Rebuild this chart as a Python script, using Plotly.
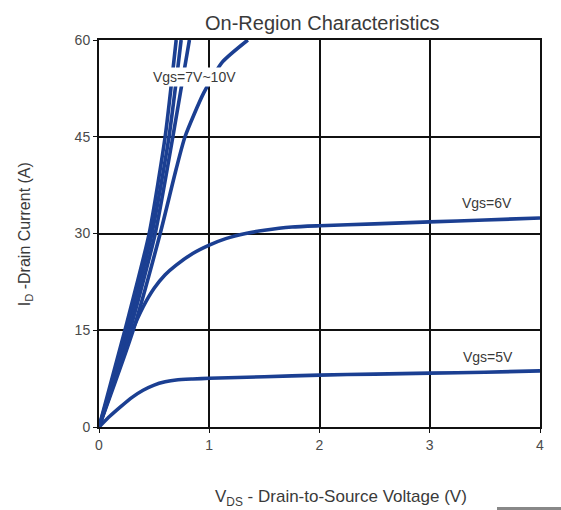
"""
plot.py

On-region characteristics of a power MOSFET: drain current versus
drain-to-source voltage for several gate voltages.
"""

import plotly.graph_objects as go

# Steep curves (Vgs = 7V .. 10V): V_DS read at fixed I_D levels
id_steep = [0, 15, 30, 45, 60]
vds_10v = [0, 0.235, 0.455, 0.60, 0.70]
vds_9v = [0, 0.255, 0.48, 0.635, 0.745]
vds_8v = [0, 0.28, 0.51, 0.67, 0.82]

id_7v = [0, 15, 30, 40, 45, 51.8, 56.6, 60]
vds_7v = [0, 0.31, 0.555, 0.70, 0.78, 0.95, 1.12, 1.35]

# Vgs = 6V
vds_6v = [0, 0.1, 0.2, 0.3, 0.4, 0.5, 0.6, 0.7, 0.85, 1.0, 1.15, 1.33,
          1.5, 1.75, 2.0, 2.5, 3.0, 3.5, 4.0]
id_6v = [0, 5, 10, 14.8, 18.6, 21.5, 23.6, 25.1, 26.9, 28.2, 29.2, 30.0,
         30.5, 31.0, 31.2, 31.5, 31.8, 32.1, 32.4]

# Vgs = 5V
vds_5v = [0, 0.1, 0.2, 0.3, 0.4, 0.5, 0.6, 0.7, 0.85, 1.0, 1.5, 2.0,
          2.5, 3.0, 3.5, 4.0]
id_5v = [0, 1.7, 3.2, 4.6, 5.7, 6.5, 7.0, 7.3, 7.45, 7.55, 7.8, 8.05,
         8.2, 8.35, 8.5, 8.7]

x_ticks = [0, 1, 2, 3, 4]
y_ticks = [0, 15, 30, 45, 60]

LINE_COLOR = "#1b3f92"
FONT = "Liberation Sans, Arial, sans-serif"

fig = go.Figure()

# Curves: one trace per gate voltage, same style for all
curves = [
    (vds_5v, id_5v),
    (vds_6v, id_6v),
    (vds_7v, id_7v),
    (vds_8v, id_steep),
    (vds_9v, id_steep),
    (vds_10v, id_steep),
]
for xs, ys in curves:
    fig.add_trace(
        go.Scatter(
            x=xs,
            y=ys,
            mode="lines",
            line=dict(color=LINE_COLOR, width=3.6, shape="spline", smoothing=0.6),
            showlegend=False,
            hoverinfo="skip",
        )
    )

# Axes: black grid every tick, boxed plot area
axis_style = dict(
    showgrid=True,
    gridcolor="#111111",
    gridwidth=2,
    showline=True,
    linecolor="#111111",
    linewidth=2,
    mirror=True,
    ticks="outside",
    ticklen=4,
    tickcolor="#111111",
    zeroline=False,
    tickfont=dict(family=FONT, size=14, color="#4a4a4a"),
)

fig.update_layout(
    width=561,
    height=510,
    margin=dict(l=99, r=21, t=40, b=83),
    paper_bgcolor="white",
    plot_bgcolor="white",
    font=dict(family=FONT),
    xaxis=dict(range=[0, 4], tickvals=x_ticks, **axis_style),
    yaxis=dict(range=[0, 60], tickvals=y_ticks, **axis_style),
)

# Curve labels: the 7V~10V label sits on a white box that hides the grid
label_font = dict(family=FONT, size=14, color="#3a3a3a")
fig.add_annotation(x=0.87, y=54.2, text="Vgs=7V~10V", showarrow=False,
                   font=label_font, bgcolor="white", borderpad=1)
fig.add_annotation(x=3.52, y=34.7, text="Vgs=6V", showarrow=False, font=label_font)
fig.add_annotation(x=3.53, y=10.85, text="Vgs=5V", showarrow=False, font=label_font)

# Title and axis titles placed as paper annotations
fig.add_annotation(
    text="On-Region Characteristics",
    x=0.506, y=1.0, xref="paper", yref="paper",
    xanchor="center", yanchor="middle",
    yshift=17, showarrow=False,
    font=dict(family=FONT, size=20, color="#3a3a3a"),
)
fig.add_annotation(
    text="V<sub>DS</sub> - Drain-to-Source Voltage (V)",
    x=0.549, y=0, xref="paper", yref="paper",
    xanchor="center", yanchor="middle",
    yshift=-71, showarrow=False,
    font=dict(family=FONT, size=17, color="#3a3a3a"),
)
fig.add_annotation(
    text="I<sub>D</sub> -Drain Current (A)",
    x=0, y=0.498, xref="paper", yref="paper",
    xanchor="center", yanchor="middle",
    xshift=-74, textangle=-90, showarrow=False,
    font=dict(family=FONT, size=16, color="#3a3a3a"),
)

# Small grey bar in the bottom right corner of the source image
fig.add_shape(
    type="rect", xref="paper", yref="paper",
    x0=0.9025, x1=1.05, y0=-0.2145, y1=-0.2067,
    fillcolor="#888888", line=dict(width=0),
)

# The page body has an 8px default margin; remove it so the figure fills the window
fig.write_html(
    "out.html",
    config={"displayModeBar": False},
    post_script="document.body.style.margin='0';",
)
